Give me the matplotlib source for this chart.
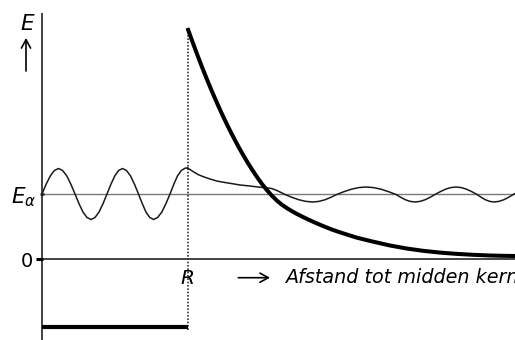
import matplotlib
matplotlib.use("Agg")
import matplotlib.pyplot as plt

plt.rcParams['font.family'] = ['DejaVu Sans']
plt.rcParams['mathtext.fontset'] = 'dejavusans'

# ---- data (energy units above 0, distance units from nucleus centre) ----
R_pos = 145.5          # nuclear radius R
E_alpha = 65.0         # alpha energy level
well_depth = -68.0     # bottom of the potential well
axis_top = 246.0

# Coulomb barrier (thick curve)
barrier_x = [145.5, 150, 155, 160, 165, 170, 175, 180, 185, 190, 195, 200,
             205, 210, 215, 220, 225, 230, 235, 240, 245, 250, 255, 260,
             266, 273, 281, 290, 300, 315, 330, 348, 364, 381, 398, 415,
             431, 448, 460, 473]
barrier_y = [231, 218.5, 205, 192, 179.5, 167.5, 156, 145, 134.5, 124.5, 115, 106,
             97.5, 89.5, 82, 75, 68.8, 63.2, 58.3, 54.2, 50.8, 47.8, 45, 42.5,
             39.6, 36.4, 33, 29.4, 26, 21.3, 17.6, 13.5, 10.6, 8.2, 6.4, 5.1,
             4.2, 3.5, 3.2, 3]

# wave function inside the nucleus
inner_x = [0, 4.1, 8.3, 12.4, 16.5, 20.6, 24.8, 28.9, 33, 37, 41, 45, 49,
           53, 57, 61, 65, 68.9, 72.8, 76.6, 80.5, 84.5, 88.5, 92.5, 96.5,
           100.3, 104, 107.8, 111.5, 115.6, 119.8, 123.9, 128, 131.8, 135.5,
           139.3, 143, 145.5]
inner_y = [65, 74.7, 83.1, 88.5, 90.5, 88.5, 83.1, 74.7, 65, 55.3, 46.9, 41.5, 39.5,
           41.5, 46.9, 55.3, 65, 74.7, 83.1, 88.5, 90.5, 88.5, 83.1, 74.7, 65,
           55.3, 46.9, 41.5, 39.5, 41.5, 46.9, 55.3, 65, 74.7, 83.1,
           88.5, 90.8, 91.0]

# wave function outside the nucleus (tunnelled)
outer_x = [145.5, 148, 151.3, 156, 161.3, 168, 174.7, 181, 188, 198, 208, 216,
           223, 229.7, 234.7, 239, 243,
           250, 257, 264, 271,
           276.9, 282.9, 288.8, 294.7,
           302, 309.4, 316.7, 324,
           331.5, 339, 346.5, 354,
           358.8, 363.5, 368.3, 373,
           378, 383, 388, 393,
           398.3, 403.5, 408.8, 414,
           419.3, 424.5, 429.8, 435,
           439.3, 443.5, 447.8, 452,
           456.8, 461.7, 466.5, 471.3, 474]
outer_y = [91.0, 89.5, 87.3, 84.5, 82.3, 80, 78, 76.8, 75.7, 74, 73, 72,
           71.3, 70.5, 68.6, 66.5, 64.5,
           61.65, 59.2, 57.6, 57,
           57.6, 59.2, 61.65, 64.5,
           67.35, 69.8, 71.4, 72,
           71.4, 69.8, 67.35, 64.5,
           61.65, 59.2, 57.6, 57,
           57.6, 59.2, 61.65, 64.5,
           67.35, 69.8, 71.4, 72,
           71.4, 69.8, 67.35, 64.5,
           61.65, 59.2, 57.6, 57,
           57.6, 59.2, 61.65, 64.5, 66]

# ---- figure ----
fig = plt.figure(figsize=(5.15, 3.4), dpi=100)
ax = fig.add_axes([0, 0, 1, 1])
ax.set_xlim(-42, 473)
ax.set_ylim(-81, 259)
ax.axis('off')

# vertical axis
ax.plot([0, 0], [-85, axis_top], color='#333333', lw=1.3, solid_capstyle='butt')
# zero line + tick
ax.plot([0, 480], [0, 0], color='#444444', lw=1.4)
ax.plot([-6, 0.5], [0, 0], color='black', lw=2.2, solid_capstyle='butt')
# E_alpha line + tick
ax.plot([0, 480], [E_alpha, E_alpha], color='#7a7a7a', lw=1.0)
ax.plot([-2.5, 2], [E_alpha, E_alpha], color='#222222', lw=1.8, solid_capstyle='butt')
# dotted line at R
ax.plot([R_pos, R_pos], [well_depth - 3, 232], color='#333333', lw=1.2,
        linestyle=(0, (1, 1)))
# bottom of well
ax.plot([0, R_pos], [well_depth, well_depth], color='black', lw=3.0,
        solid_capstyle='butt')

# wave function
ax.plot(inner_x, inner_y, color='#1a1a1a', lw=1.1, solid_joinstyle='round')
ax.plot(outer_x, outer_y, color='#1a1a1a', lw=1.1, solid_joinstyle='round')
# Coulomb barrier
ax.plot(barrier_x, barrier_y, color='black', lw=2.9, solid_capstyle='butt',
        solid_joinstyle='round')

# arrows
arrow_kw = dict(arrowstyle='->,head_length=0.6,head_width=0.33', lw=1.2,
                color='black', shrinkA=0, shrinkB=0, mutation_scale=10)
ax.annotate('', xy=(-16, 221), xytext=(-16, 188), arrowprops=arrow_kw)
ax.annotate('', xy=(228, -18.7), xytext=(196.3, -18.7), arrowprops=arrow_kw)

# texts
ax.text(-22, 229, 'E', fontsize=15.5, style='italic', ha='left', va='baseline')
ax.text(-6, 56, r'$E_{\alpha}$', fontsize=15.5, ha='right', va='baseline')
ax.text(-9.5, -8, '0', fontsize=14, ha='right', va='baseline')
ax.text(R_pos, -25.3, 'R', fontsize=14.5, style='italic', ha='center', va='baseline')
ax.text(243, -24, 'Afstand tot midden kern', fontsize=13.8, style='italic',
        ha='left', va='baseline')

fig.savefig('out.png', dpi=100)
